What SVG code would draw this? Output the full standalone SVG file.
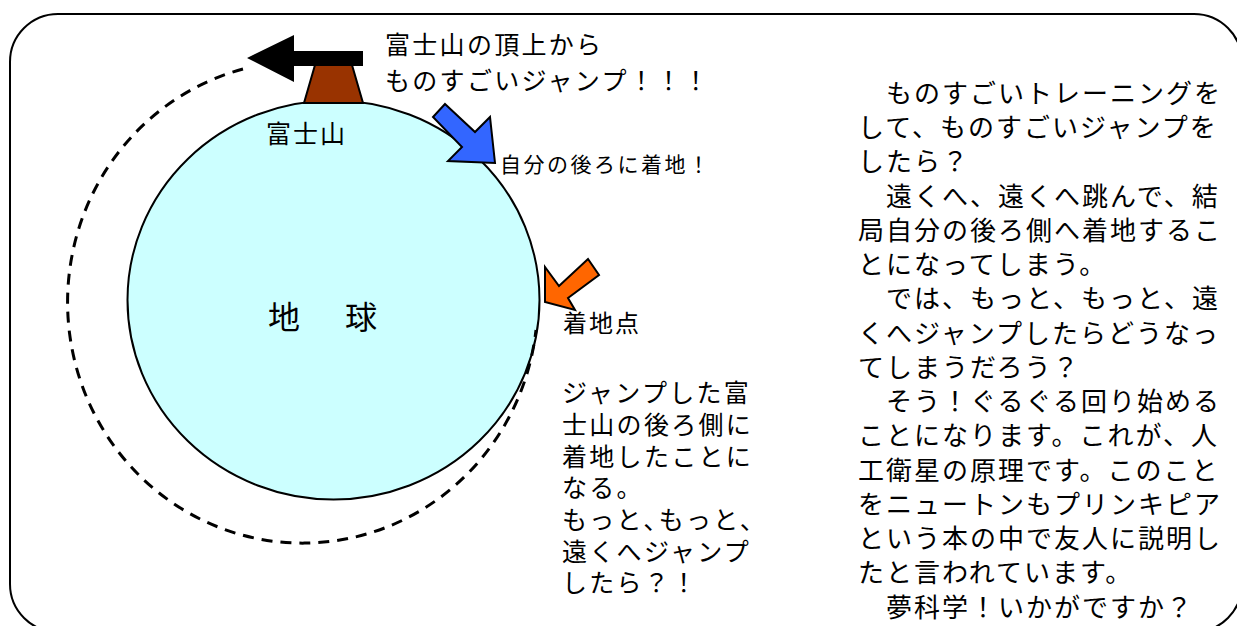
<svg xmlns="http://www.w3.org/2000/svg" width="1237" height="626" viewBox="0 0 1237 626">
  <style>
    .jp { font-family: "Noto Sans CJK JP", "Noto Sans", sans-serif; fill: #000; }
    .outline { stroke: #000; stroke-width: 2; stroke-linejoin: miter; }
  </style>
  <rect width="1237" height="626" fill="#fff"/>

  <!-- outer rounded frame -->
  <g id="frame">
    <rect x="10" y="14" width="1232" height="618" rx="48" ry="48" fill="none" stroke="#000" stroke-width="2"/>
  </g>

  <!-- the Earth -->
  <g id="earth">
    <ellipse cx="333.5" cy="300" rx="206" ry="199.5" fill="#CCFFFF" stroke="#000" stroke-width="2"/>
    <text class="jp" x="268" y="329" font-size="32" letter-spacing="6.5">地　球</text>
  </g>

  <!-- Mount Fuji -->
  <g id="mountain">
    <polygon class="outline" points="315,65 352,65 363,103 304,103" fill="#993300"/>
    <text class="jp" x="266" y="143" font-size="25" letter-spacing="2">富士山</text>
  </g>

  <!-- jump trajectory -->
  <g id="connectors">
    <path d="M 243,69 A 235 241 0 1 0 536,330" fill="none" stroke="#000" stroke-width="3" stroke-dasharray="11 8"/>
  </g>

  <!-- black jump arrow -->
  <g id="jump-arrow">
    <polygon points="363,51 294,51 294,35 247,58 294,82 294,66 363,66" fill="#000"/>
  </g>

  <!-- blue landing arrow -->
  <g id="blue-arrow">
    <polygon class="outline" points="445,104 475,132 490,117 495,163 448,161 462,147 433,117" fill="#3366FF"/>
  </g>

  <!-- orange landing arrow -->
  <g id="orange-arrow">
    <polygon class="outline" points="545,302 545,267 559,286 588,259 599,275 568,298 575,310" fill="#FF6600"/>
  </g>

  <!-- labels -->
  <g id="jump-label">
    <text class="jp" font-size="25" letter-spacing="2.3">
      <tspan x="385" y="54">富士山の頂上から</tspan>
      <tspan x="385" y="90">ものすごいジャンプ！！！</tspan>
    </text>
  </g>

  <g id="landing-label">
    <text class="jp" x="500" y="172" font-size="21" letter-spacing="2.5">自分の後ろに着地！</text>
  </g>

  <g id="landing-point-label">
    <text class="jp" x="563" y="332" font-size="24" letter-spacing="2">着地点</text>
  </g>

  <g id="middle-note">
    <text class="jp" font-size="25" letter-spacing="2.3">
      <tspan x="562" y="402">ジャンプした富</tspan>
      <tspan x="562" y="434">士山の後ろ側に</tspan>
      <tspan x="562" y="466">着地したことに</tspan>
      <tspan x="562" y="497">なる。</tspan>
      <tspan x="562" y="529">もっと､もっと､</tspan>
      <tspan x="562" y="561">遠くへジャンプ</tspan>
      <tspan x="562" y="592">したら？！</tspan>
    </text>
  </g>

  <g id="explanation">
    <text class="jp" font-size="26" letter-spacing="2">
      <tspan x="858" y="103">　ものすごいトレーニングを</tspan>
      <tspan x="858" y="137">して、ものすごいジャンプを</tspan>
      <tspan x="858" y="171">したら？</tspan>
      <tspan x="858" y="206">　遠くへ、遠くへ跳んで、結</tspan>
      <tspan x="858" y="240">局自分の後ろ側へ着地するこ</tspan>
      <tspan x="858" y="274">とになってしまう。</tspan>
      <tspan x="858" y="308">　では、もっと、もっと、遠</tspan>
      <tspan x="858" y="343">くへジャンプしたらどうなっ</tspan>
      <tspan x="858" y="377">てしまうだろう？</tspan>
      <tspan x="858" y="411">　そう！ぐるぐる回り始める</tspan>
      <tspan x="858" y="445">ことになります。これが、人</tspan>
      <tspan x="858" y="480">工衛星の原理です。このこと</tspan>
      <tspan x="858" y="514">をニュートンもプリンキピア</tspan>
      <tspan x="858" y="548">という本の中で友人に説明し</tspan>
      <tspan x="858" y="582">たと言われています。</tspan>
      <tspan x="858" y="617">　夢科学！いかがですか？</tspan>
    </text>
  </g>
</svg>
